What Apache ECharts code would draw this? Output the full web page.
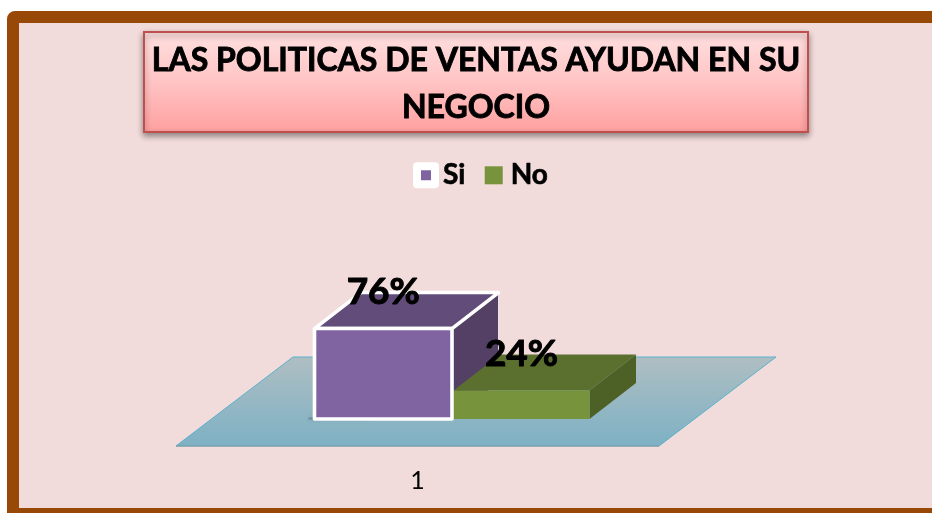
<!DOCTYPE html>
<html><head><meta charset="utf-8">
<style>html,body{margin:0;padding:0;background:#fff}#c{width:932px;height:513px}</style>
<script src="https://cdn.jsdelivr.net/npm/echarts@6/dist/echarts.min.js"></script>
</head><body><div id="c"></div>
<script>
const titleText = 'LAS POLITICAS DE VENTAS AYUDAN EN SU\nNEGOCIO';
const categories = ['1'];
const seriesNames = ['Si', 'No'];
const siValues = [76];
const noValues = [24];

const FONT = 'Lato';
const SHIFT = [36, 27];      // floor-front to bar-front offset
const DEPTH = [46.5, 36];    // bar depth projection
const FLOOR = [117, 89];     // floor depth projection
const BAR_W = 138;

function barGeom(api, side) {
  const base = api.coord([api.value(0), 0]);
  const top = api.coord([api.value(0), api.value(1)]);
  const cx = base[0] + SHIFT[0], by = base[1] - SHIFT[1], ty = top[1] - SHIFT[1];
  return { x0: side < 0 ? cx - BAR_W - 1 : cx, x1: side < 0 ? cx - 1.5 : cx + BAR_W - 2, by, ty };
}
function poly(points, fill, z2, extra) {
  return Object.assign({ type: 'polygon', shape: { points }, style: { fill }, z2 }, extra || {});
}
function labelEl(g, v) {
  return { type: 'text', z2: 20, style: { x: (g.x0 + g.x1) / 2, y: g.ty - 36.5, text: v + '%', align: 'center', verticalAlign: 'middle',
    fill: '#000', stroke: '#000', lineWidth: 1, font: 'bold 37px ' + FONT } };
}
function renderSi(params, api) {
  const g = barGeom(api, -1), dx = DEPTH[0], dy = DEPTH[1];
  const white = { stroke: '#fff', lineWidth: 3.6, lineJoin: 'round' };
  return { type: 'group', children: [
    { type: 'rect', z2: 1, shape: { x: g.x0 - 6, y: g.by - 1.5, width: 60, height: 2 },
      style: { fill: 'rgba(40,60,70,0.3)', shadowBlur: 5, shadowColor: 'rgba(30,50,60,0.7)' } },
    poly([[g.x1, g.ty], [g.x1 + dx, g.ty - dy], [g.x1 + dx, g.by - dy], [g.x1, g.by]], '#534064', 2,
      { style: { fill: '#534064', stroke: 'rgba(255,255,255,0.75)', lineWidth: 1 } }),
    poly([[g.x0, g.ty], [g.x1, g.ty], [g.x1 + dx, g.ty - dy], [g.x0 + dx, g.ty - dy]], '#624C7A', 3,
      { style: Object.assign({ fill: '#624C7A' }, white) }),
    { type: 'rect', z2: 6, shape: { x: g.x0, y: g.ty, width: g.x1 - g.x0, height: g.by - g.ty },
      style: Object.assign({ fill: '#8064A2' }, white) },
    labelEl(g, api.value(1))
  ] };
}
function renderNo(params, api) {
  const g = barGeom(api, 1), dx = DEPTH[0], dy = DEPTH[1];
  return { type: 'group', children: [
    poly([[g.x1, g.ty], [g.x1 + dx, g.ty - dy], [g.x1 + dx, g.by - dy], [g.x1, g.by]], '#4D6127', 4),
    poly([[g.x0, g.ty], [g.x1, g.ty], [g.x1 + dx, g.ty - dy], [g.x0 + dx, g.ty - dy]], '#5B702E', 4),
    { type: 'rect', z2: 5, shape: { x: g.x0, y: g.ty, width: g.x1 - g.x0, height: g.by - g.ty }, style: { fill: '#77933C' } },
    labelEl(g, api.value(1))
  ] };
}
function renderFloor(params, api) {
  const c = api.coord([api.value(0), 0]), w = api.size([1, 0])[0];
  const L = c[0] - w / 2, R = c[0] + w / 2, y = c[1];
  return { type: 'group', silent: true, children: [
    poly([[L, y], [R, y], [R + FLOOR[0], y - FLOOR[1]], [L + FLOOR[0], y - FLOOR[1]]], null, 0, {
      style: { fill: new echarts.graphic.LinearGradient(0, 0, 0, 1, [{ offset: 0, color: '#AFBEC2' }, { offset: 1, color: '#7DB1C4' }]),
        stroke: '#58B2CC', lineWidth: 1 } }),
    { type: 'line', z2: 0, shape: { x1: L, y1: y, x2: R, y2: y }, style: { stroke: '#86959C', lineWidth: 1 } }
  ] };
}

const option = {
  animation: false,
  backgroundColor: '#fff',
  graphic: [{ type: 'rect', z: -1, shape: { x: 13, y: 17, width: 1000, height: 497, r: 2 },
    style: { fill: '#F2DCDB', stroke: '#984807', lineWidth: 12 } }],
  title: {
    text: titleText, left: 468, top: 32, textAlign: 'center',
    padding: [5, 8, 1, 8],
    borderColor: '#C0504D', borderWidth: 2,
    backgroundColor: new echarts.graphic.LinearGradient(0, 0, 0, 1, [{ offset: 0, color: '#FFE0E0' }, { offset: 0.5, color: '#FFC4C4' }, { offset: 1, color: '#FF9F9F' }]),
    shadowBlur: 6, shadowOffsetY: 3, shadowColor: 'rgba(0,0,0,0.4)',
    textStyle: { fontFamily: FONT, fontSize: 32, fontWeight: 'bold', color: '#000', lineHeight: 47, align: 'center',
      textBorderColor: '#000', textBorderWidth: 0.9 }
  },
  legend: {
    data: [
      { name: seriesNames[0], icon: 'rect', itemStyle: { color: '#8064A2', borderColor: '#fff', borderWidth: 8, borderJoin: 'round' } },
      { name: seriesNames[1], icon: 'rect', itemStyle: { color: '#77933C', borderWidth: 0 } }
    ],
    left: 413, top: 161, itemWidth: 18, itemHeight: 18, itemGap: 19, padding: 0,
    textStyle: { fontFamily: FONT, fontSize: 28, fontWeight: 'bold', color: '#000', padding: [0, 0, 0, 3],
      textBorderColor: '#000', textBorderWidth: 0.6 }
  },
  grid: { left: 176, width: 483, top: 327, height: 119 },
  xAxis: { type: 'category', data: categories, axisLine: { show: false }, axisTick: { show: false },
    axisLabel: { margin: 22, color: '#000', fontFamily: FONT, fontSize: 25 } },
  yAxis: { type: 'value', min: 0, max: 100, show: false },
  series: [
    { type: 'custom', name: 'floor', silent: true, z: 2, renderItem: renderFloor, clip: false, encode: { x: 0, y: 1 }, data: [[0, 0]] },
    { type: 'custom', name: seriesNames[0], z: 2, renderItem: renderSi, clip: false, encode: { x: 0, y: 1 },
      itemStyle: { color: '#8064A2' }, data: siValues.map((v, i) => [i, v]) },
    { type: 'custom', name: seriesNames[1], z: 2, renderItem: renderNo, clip: false, encode: { x: 0, y: 1 },
      itemStyle: { color: '#77933C' }, data: noValues.map((v, i) => [i, v]) }
  ]
};
echarts.init(document.getElementById('c'), null, { renderer: 'canvas' }).setOption(option);
</script></body></html>
